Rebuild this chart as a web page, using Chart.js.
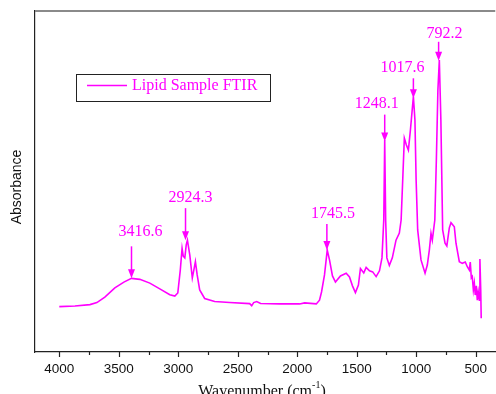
<!DOCTYPE html>
<html>
<head>
<meta charset="utf-8">
<script src="https://cdn.jsdelivr.net/npm/chart.js@4"></script>
<style>
  html, body { margin: 0; padding: 0; background: #fff; }
  #wrap { width: 496px; height: 394px; }
</style>
</head>
<body>
<div id="wrap"><canvas id="c" width="496" height="394"></canvas></div>
<script>
// spectre (nombre d'onde cm-1, absorbance en unites arbitraires)
const wavenumbers = [4000, 3868, 3742, 3684, 3617, 3533, 3457, 3393, 3323, 3239, 3155, 3071, 3029, 3004, 2983, 2968, 2958, 2945, 2933, 2923,
  2903, 2882, 2866, 2856, 2841, 2820, 2778, 2694, 2568, 2400, 2383, 2366, 2341, 2308, 2148, 1980, 1938, 1840, 1813, 1796,
  1771, 1748, 1729, 1704, 1679, 1637, 1589, 1561, 1536, 1511, 1486, 1469, 1441, 1421, 1393, 1366, 1337, 1309, 1288, 1273,
  1265, 1257, 1247, 1226, 1201, 1170, 1142, 1127, 1112, 1100, 1083, 1066, 1049, 1024, 1011, 1001, 988, 960, 926, 907,
  890, 876, 865, 856, 844, 831, 818, 806, 793, 778, 758, 743, 722, 708, 680, 666, 638, 613, 588, 571,
  554, 546, 537, 529, 520, 512, 504, 495, 487, 479, 470, 465, 458, 454];
const absorbance = [0.133, 0.135, 0.139, 0.145, 0.161, 0.188, 0.205, 0.216, 0.213, 0.202, 0.185, 0.168, 0.164, 0.173, 0.240, 0.304, 0.281, 0.276, 0.314, 0.328,
  0.284, 0.217, 0.246, 0.265, 0.226, 0.182, 0.157, 0.148, 0.145, 0.142, 0.136, 0.145, 0.148, 0.142, 0.141, 0.141, 0.144, 0.141, 0.152, 0.176,
  0.226, 0.299, 0.270, 0.223, 0.205, 0.223, 0.231, 0.220, 0.194, 0.174, 0.196, 0.245, 0.232, 0.248, 0.238, 0.235, 0.221, 0.238, 0.276, 0.387,
  0.622, 0.387, 0.276, 0.254, 0.276, 0.328, 0.349, 0.387, 0.519, 0.627, 0.607, 0.592, 0.651, 0.749, 0.680, 0.504, 0.358, 0.270, 0.231, 0.255,
  0.299, 0.348, 0.328, 0.353, 0.387, 0.563, 0.768, 0.856, 0.680, 0.358, 0.319, 0.311, 0.364, 0.379, 0.367, 0.319, 0.265, 0.260, 0.264, 0.250,
  0.240, 0.264, 0.217, 0.221, 0.182, 0.202, 0.167, 0.194, 0.152, 0.176, 0.152, 0.273, 0.182, 0.099];

// pics annotes
const peakLabels = ["3416.6", "2924.3", "1745.5", "1248.1", "1017.6", "792.2"];
const peakWave = [3393, 2939, 1751, 1265, 1024, 812];
const peakTip = [0.216, 0.328, 0.299, 0.617, 0.744, 0.854];

const xTicks = [4000, 3500, 3000, 2500, 2000, 1500, 1000, 500];
const xMinorTicks = [3750, 3250, 2750, 2250, 1750, 1250, 750];
const seriesName = "Lipid Sample FTIR";

// mise en forme des fleches : longueur, decalage du texte
const arrowStyle = [
  { len: 32, dx: 9, dy: 15 },
  { len: 32, dx: 5, dy: 10 },
  { len: 26, dx: 6, dy: 10 },
  { len: 27, dx: -8, dy: 11 },
  { len: 20, dx: -11, dy: 10 },
  { len: 19, dx: 6, dy: 8 }
];

const MAGENTA = "#ff00ff";

const points = wavenumbers.map((w, i) => ({ x: w, y: absorbance[i] }));

const decorPlugin = {
  id: "decor",
  afterDatasetsDraw(chart) {
    const ctx = chart.ctx;
    const xs = chart.scales.x, ys = chart.scales.y;
    const area = chart.chartArea;
    ctx.save();

    // bord du haut
    ctx.strokeStyle = "#8a8a8a";
    ctx.lineWidth = 2;
    ctx.beginPath();
    ctx.moveTo(area.left, area.top);
    ctx.lineTo(area.right, area.top);
    ctx.stroke();

    // graduations
    ctx.strokeStyle = "#222";
    ctx.lineWidth = 1.2;
    xTicks.forEach(t => {
      const px = Math.round(xs.getPixelForValue(t)) + 0.5;
      ctx.beginPath(); ctx.moveTo(px, area.bottom); ctx.lineTo(px, area.bottom + 5); ctx.stroke();
    });
    xMinorTicks.forEach(t => {
      const px = Math.round(xs.getPixelForValue(t)) + 0.5;
      ctx.beginPath(); ctx.moveTo(px, area.bottom); ctx.lineTo(px, area.bottom + 3); ctx.stroke();
    });

    // fleches + etiquettes des pics
    ctx.fillStyle = MAGENTA;
    ctx.strokeStyle = MAGENTA;
    ctx.font = "16px 'Liberation Serif', serif";
    ctx.textAlign = "center";
    ctx.textBaseline = "middle";
    peakLabels.forEach((lab, i) => {
      const st = arrowStyle[i];
      const px = xs.getPixelForValue(peakWave[i]);
      const tip = ys.getPixelForValue(peakTip[i]);
      const tail = tip - st.len;
      ctx.lineWidth = 1.5;
      ctx.beginPath(); ctx.moveTo(px, tail); ctx.lineTo(px, tip - 6); ctx.stroke();
      ctx.beginPath();
      ctx.moveTo(px - 3.5, tip - 9);
      ctx.lineTo(px + 3.5, tip - 9);
      ctx.lineTo(px, tip);
      ctx.closePath();
      ctx.fill();
      ctx.fillText(lab, px + st.dx, tail - st.dy);
    });

    // legende
    ctx.strokeStyle = "#222";
    ctx.lineWidth = 1;
    ctx.strokeRect(76.5, 74.5, 194, 27);
    ctx.strokeStyle = MAGENTA;
    ctx.lineWidth = 1.5;
    ctx.beginPath(); ctx.moveTo(87, 85.5); ctx.lineTo(127, 85.5); ctx.stroke();
    ctx.textAlign = "left";
    ctx.fillText(seriesName, 132, 86);

    // titres des axes
    ctx.fillStyle = "#111";
    ctx.font = "16px 'Liberation Serif', serif";
    ctx.textBaseline = "alphabetic";
    const t1 = "Wavenumber (cm", t2 = "-1", t3 = ")";
    const w1 = ctx.measureText(t1).width;
    ctx.font = "10px 'Liberation Serif', serif";
    const w2 = ctx.measureText(t2).width;
    ctx.font = "16px 'Liberation Serif', serif";
    const w3 = ctx.measureText(t3).width;
    let sx = 262 - (w1 + w2 + w3) / 2;
    const by = 396;
    ctx.fillText(t1, sx, by);
    ctx.font = "10px 'Liberation Serif', serif";
    ctx.fillText(t2, sx + w1, by - 8);
    ctx.font = "16px 'Liberation Serif', serif";
    ctx.fillText(t3, sx + w1 + w2, by);

    ctx.save();
    ctx.translate(17, 187);
    ctx.rotate(-Math.PI / 2);
    ctx.textAlign = "center";
    ctx.textBaseline = "middle";
    ctx.font = "14px 'Liberation Sans', Arial, sans-serif";
    ctx.fillText("Absorbance", 0, 0);
    ctx.restore();

    ctx.restore();
  }
};

new Chart(document.getElementById("c"), {
  type: "line",
  data: {
    datasets: [{
      label: seriesName,
      data: points,
      borderColor: MAGENTA,
      borderWidth: 1.6,
      pointRadius: 0,
      tension: 0,
      fill: false
    }]
  },
  options: {
    responsive: false,
    animation: false,
    layout: { padding: { top: 11, right: 0, left: 0, bottom: 0 } },
    plugins: { legend: { display: false }, tooltip: { enabled: false } },
    scales: {
      x: {
        type: "linear",
        reverse: true,
        min: 336,
        max: 4204,
        afterBuildTicks: s => { s.ticks = xTicks.map(v => ({ value: v })); },
        afterFit: s => { s.height = 42; },
        grid: { display: false, drawTicks: false },
        border: { display: true, color: "#222", width: 1.2 },
        ticks: {
          padding: 9,
          maxRotation: 0,
          autoSkip: false,
          color: "#111",
          callback: v => String(v),
          font: { family: "'Liberation Sans', Arial, sans-serif", size: 13.5 }
        }
      },
      y: {
        min: 0,
        max: 1,
        afterFit: s => { s.width = 35; },
        grid: { display: false, drawTicks: false },
        border: { display: true, color: "#222", width: 1.2 },
        ticks: { display: false }
      }
    }
  },
  plugins: [decorPlugin]
});
</script>
</body>
</html>
